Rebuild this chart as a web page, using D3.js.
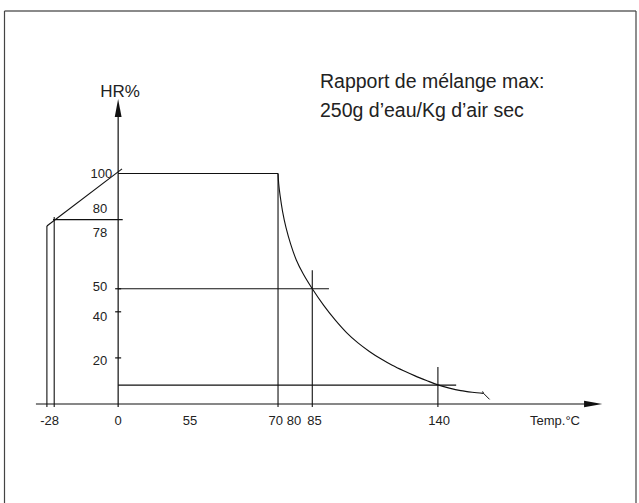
<!DOCTYPE html>
<html>
<head>
<meta charset="utf-8">
<script src="https://cdn.jsdelivr.net/npm/d3@7"></script>
<style>
  body { margin: 0; background: #fff; }
  text { font-family: "Liberation Sans", Arial, sans-serif; fill: #222; }
</style>
</head>
<body>
<main></main>
<script>
// constants
const width = 639;
const height = 503;

// curve of max relative humidity vs temperature (temp °C, HR %)
const curveTemp = [70, 70.3, 70.9, 72, 73.5, 75.5, 78, 81, 85, 90, 95, 100, 105, 110, 115, 120, 125, 130, 135, 140, 145, 150, 155, 160];
const curveHR = [100, 95.5, 90.5, 83.5, 76.5, 69.5, 62.5, 56.5, 50, 42.8, 36.5, 31, 26.5, 22.8, 19.6, 16.8, 14.4, 12.2, 10.2, 8.3, 6.9, 5.8, 5.1, 4.6];

// construction lines [t1, hr1, t2, hr2]
const guideLines = [
  [0, 100, 70, 100],        // plateau 100%
  [70, 100, 70, -1.3],      // 70 °C
  [-31.2, 77.2, 1.7, 102],  // low temp ramp
  [-31.2, 77.2, -31.2, -1.3],
  [-28, 81.1, -28, -1.3],
  [-28.5, 80, 2, 80],
  [0, 50, 92.3, 50],
  [85, 58, 85, -1.3],
  [0, 8.2, 148, 8.2],
  [140, 16, 140, -1.3]
];

const yTicks = [20, 40, 50];
const xTickLabels = ['-28', '0', '55', '70', '80', '85', '140'];
const xTickLabelAt = [-30, 0, 31.5, 69, 77, 86, 140.5];
const yTickLabels = ['100', '80', '78', '50', '40', '20'];
const yTickLabelAt = [100, 84.8, 74.6, 51, 38.2, 19.1];

const svg = d3.select('main')
  .append('svg')
  .attr('width', width)
  .attr('height', height);

// frame
svg.append('line').attr('x1', 4.5).attr('x2', 636).attr('y1', 11).attr('y2', 11)
  .attr('stroke', '#8a8a8a').attr('stroke-width', 2);
svg.append('line').attr('x1', 4.5).attr('x2', 4.5).attr('y1', 11).attr('y2', height)
  .attr('stroke', '#444').attr('stroke-width', 1.2);
svg.append('line').attr('x1', 636).attr('x2', 636).attr('y1', 11).attr('y2', height)
  .attr('stroke', '#444').attr('stroke-width', 1.2);

// Scales
const xScale = d3.scaleLinear().domain([-28, 140]).range([54.2, 437.9]);
const yScale = d3.scaleLinear().domain([0, 100]).range([404, 173.5]);

const ink = '#111';

// axes
svg.append('line')
  .attr('x1', xScale(-36)).attr('x2', xScale(205))
  .attr('y1', yScale(0)).attr('y2', yScale(0))
  .attr('stroke', ink).attr('stroke-width', 1.2);
svg.append('path')
  .attr('d', `M${xScale(212)},${yScale(0)} L${xScale(204)},${yScale(0) - 3.2} L${xScale(204)},${yScale(0) + 3.2} Z`)
  .attr('fill', ink);

svg.append('line')
  .attr('x1', xScale(0)).attr('x2', xScale(0))
  .attr('y1', yScale(-1.3)).attr('y2', yScale(125))
  .attr('stroke', ink).attr('stroke-width', 1.2);
svg.append('path')
  .attr('d', `M${xScale(0)},${yScale(132.3)} L${xScale(0) - 3.4},${yScale(124.5)} L${xScale(0) + 3.4},${yScale(124.5)} Z`)
  .attr('fill', ink);

svg.selectAll('line.ytick')
  .data(yTicks)
  .enter()
  .append('line')
  .attr('class', 'ytick')
  .attr('x1', xScale(0) - 3).attr('x2', xScale(0) + 3)
  .attr('y1', d => yScale(d)).attr('y2', d => yScale(d))
  .attr('stroke', ink).attr('stroke-width', 1.2);

// construction lines
svg.selectAll('line.guide')
  .data(guideLines)
  .enter()
  .append('line')
  .attr('class', 'guide')
  .attr('x1', d => xScale(d[0])).attr('y1', d => yScale(d[1]))
  .attr('x2', d => xScale(d[2])).attr('y2', d => yScale(d[3]))
  .attr('stroke', ink).attr('stroke-width', 1.1);

// saturation curve
const curvePts = curveTemp.map((t, i) => [t, curveHR[i]]);
svg.append('path')
  .datum(curvePts)
  .attr('d', d3.line().x(d => xScale(d[0])).y(d => yScale(d[1])).curve(d3.curveCatmullRom.alpha(0.5)))
  .attr('fill', 'none').attr('stroke', ink).attr('stroke-width', 1.1);

// end hook of curve
const last = curvePts[curvePts.length - 1];
svg.append('path')
  .attr('d', `M${xScale(last[0]) - 1},${yScale(last[1]) - 2} L${xScale(last[0])},${yScale(last[1])} L${xScale(last[0]) + 6},${yScale(last[1]) + 6}`)
  .attr('fill', 'none').attr('stroke', ink).attr('stroke-width', 1);

// tick labels
svg.selectAll('text.xlab')
  .data(xTickLabels)
  .enter()
  .append('text')
  .attr('class', 'xlab')
  .attr('x', (d, i) => xScale(xTickLabelAt[i]))
  .attr('y', 425)
  .attr('text-anchor', 'middle')
  .attr('font-size', 13)
  .text(d => d);

svg.selectAll('text.ylab')
  .data(yTickLabels)
  .enter()
  .append('text')
  .attr('class', 'ylab')
  .attr('x', d => d === '100' ? xScale(0) - 6 : xScale(0) - 11)
  .attr('y', (d, i) => yScale(yTickLabelAt[i]) + 4.6)
  .attr('text-anchor', 'end')
  .attr('font-size', 13)
  .text(d => d);

// axis titles
svg.append('text')
  .attr('x', xScale(0) + 2).attr('y', 97.3)
  .attr('text-anchor', 'middle')
  .attr('font-size', 17)
  .text('HR%');

svg.append('text')
  .attr('x', 530).attr('y', 424.5)
  .attr('font-size', 13)
  .text('Temp.°C');

// note
svg.append('text').attr('x', 320).attr('y', 88).attr('font-size', 19.5)
  .text('Rapport de mélange max:');
svg.append('text').attr('x', 320).attr('y', 117).attr('font-size', 19.5)
  .text('250g d’eau/Kg d’air sec');
</script>
</body>
</html>
